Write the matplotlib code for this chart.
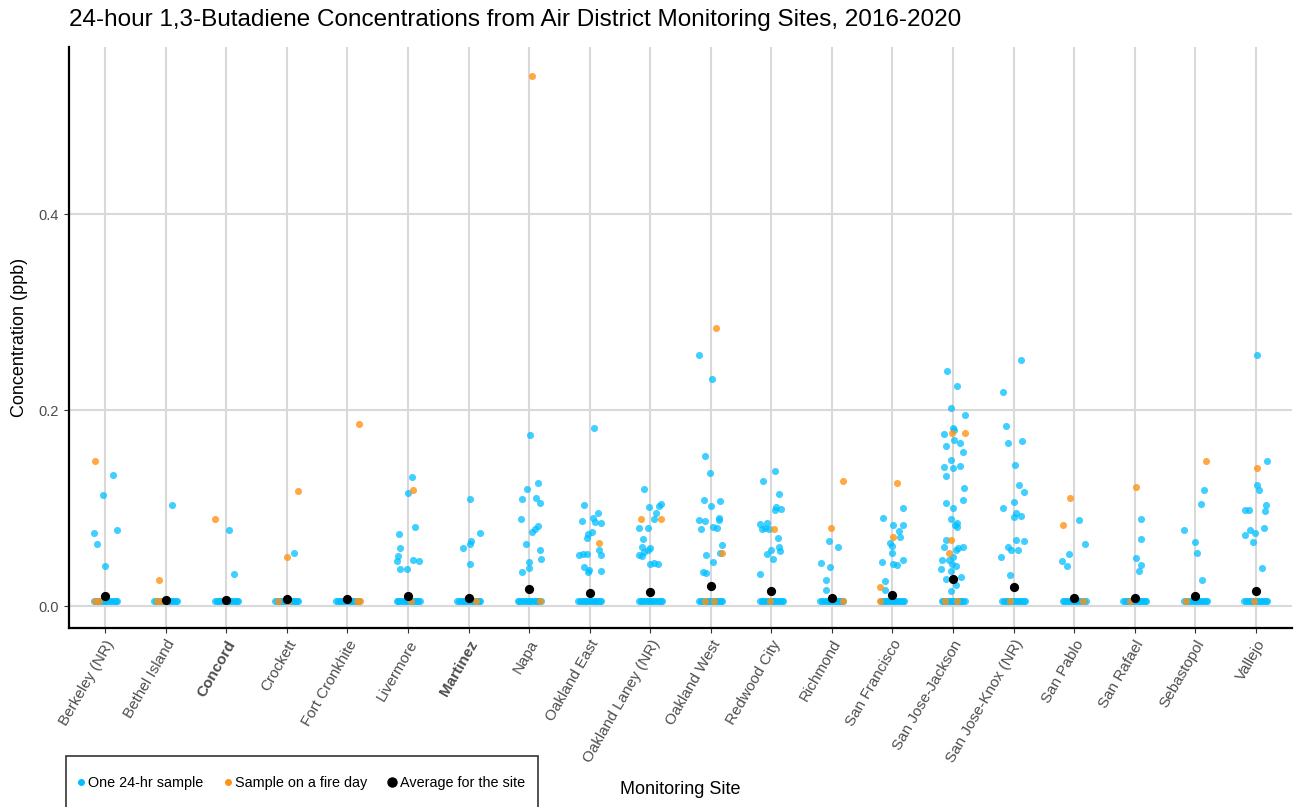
import numpy as np
import matplotlib.pyplot as plt
from matplotlib.lines import Line2D
from matplotlib.patches import Rectangle

plt.rcParams["font.family"] = ["Liberation Sans", "DejaVu Sans"]

sites = ["Berkeley (NR)", "Bethel Island", "Concord", "Crockett", "Fort Cronkhite",
         "Livermore", "Martinez", "Napa", "Oakland East", "Oakland Laney (NR)",
         "Oakland West", "Redwood City", "Richmond", "San Francisco", "San Jose-Jackson",
         "San Jose-Knox (NR)", "San Pablo", "San Rafael", "Sebastopol", "Vallejo"]
bold_sites = ["Concord", "Martinez"]

# average per site
averages = [0.010, 0.006, 0.006, 0.007, 0.007, 0.0105, 0.008, 0.018, 0.014, 0.015,
            0.0205, 0.016, 0.008, 0.012, 0.0275, 0.020, 0.0085, 0.008, 0.010, 0.016]

# samples below detection sit on one line
detect_value = 0.0055
baseline_offsets = [-0.19, -0.16, -0.13, -0.10, -0.07, -0.04, -0.01,
                    0.02, 0.05, 0.08, 0.11, 0.14, 0.17, 0.19]
fire_baseline_offsets = [[-0.17, -0.10], [-0.15, -0.08], [-0.03], [-0.15, 0.02], [0.15, 0.20],
                         [0.05], [0.13], [0.18], [], [],
                         [-0.10, 0.05], [-0.03], [0.18], [-0.20], [-0.13, 0.06],
                         [-0.06], [0.15], [-0.08], [-0.15], [-0.03]]

# (jitter offset, value) for detected samples
blue_points = [
    [(0.13, 0.134), (-0.03, 0.114), (-0.18, 0.075), (-0.13, 0.064), (0.20, 0.078), (0.0, 0.041)],
    [(0.10, 0.103)],
    [(0.04, 0.078), (0.12, 0.033)],
    [(0.12, 0.054)],
    [],
    [(0.06, 0.132), (0.0, 0.116), (0.12, 0.081), (-0.15, 0.074), (-0.13, 0.059), (-0.17, 0.051),
     (-0.18, 0.046), (-0.14, 0.038), (-0.01, 0.038), (0.09, 0.047), (0.18, 0.046)],
    [(0.02, 0.109), (0.19, 0.075), (0.04, 0.067), (0.03, 0.064), (-0.10, 0.059), (0.02, 0.043)],
    [(0.02, 0.175), (0.15, 0.126), (-0.03, 0.120), (-0.12, 0.110), (0.12, 0.111), (0.18, 0.105),
     (-0.13, 0.089), (0.14, 0.082), (0.10, 0.079), (0.05, 0.076), (-0.05, 0.064), (0.18, 0.057),
     (0.19, 0.048), (0.0, 0.045), (0.0, 0.039), (-0.12, 0.035)],
    [(0.07, 0.182), (-0.09, 0.103), (0.13, 0.095), (0.05, 0.090), (-0.13, 0.087), (0.08, 0.086),
     (0.19, 0.085), (0.04, 0.076), (-0.03, 0.074), (-0.04, 0.070), (0.16, 0.057), (0.18, 0.052),
     (-0.17, 0.052), (-0.11, 0.053), (-0.04, 0.053), (-0.10, 0.040), (-0.01, 0.037),
     (-0.03, 0.035), (0.19, 0.036)],
    [(-0.10, 0.120), (-0.02, 0.101), (0.14, 0.102), (0.17, 0.104), (0.10, 0.095), (0.06, 0.089),
     (-0.04, 0.080), (-0.18, 0.080), (-0.12, 0.069), (-0.14, 0.060), (0.0, 0.059), (-0.03, 0.057),
     (-0.10, 0.055), (-0.19, 0.052), (-0.14, 0.051), (-0.01, 0.043), (0.06, 0.044), (0.13, 0.043)],
    [(-0.20, 0.256), (0.02, 0.232), (-0.10, 0.153), (-0.02, 0.136), (-0.11, 0.108), (0.0, 0.102),
     (0.15, 0.107), (-0.20, 0.088), (-0.09, 0.087), (0.14, 0.090), (0.14, 0.088), (-0.16, 0.079),
     (0.04, 0.081), (0.10, 0.080), (0.18, 0.063), (0.15, 0.054), (-0.08, 0.052), (0.04, 0.045),
     (-0.13, 0.035), (-0.08, 0.034)],
    [(0.06, 0.138), (-0.13, 0.128), (0.12, 0.115), (0.07, 0.101), (0.16, 0.099), (0.06, 0.098),
     (-0.18, 0.084), (-0.07, 0.085), (-0.16, 0.079), (-0.10, 0.080), (-0.04, 0.079), (0.11, 0.070),
     (0.12, 0.061), (0.14, 0.056), (-0.01, 0.057), (-0.07, 0.053), (0.02, 0.048), (-0.19, 0.033)],
    [(-0.04, 0.067), (0.10, 0.061), (-0.18, 0.044), (-0.03, 0.040), (-0.10, 0.027), (-0.10, 0.017)],
    [(0.18, 0.100), (-0.15, 0.090), (0.01, 0.083), (0.18, 0.083), (0.10, 0.077), (0.12, 0.071),
     (-0.04, 0.065), (-0.01, 0.062), (-0.01, 0.054), (0.17, 0.047), (-0.17, 0.045), (0.01, 0.043),
     (0.07, 0.042), (-0.12, 0.026), (-0.13, 0.017)],
    [(-0.10, 0.240), (0.06, 0.225), (-0.04, 0.202), (0.20, 0.195), (0.0, 0.182), (0.01, 0.180),
     (-0.15, 0.176), (0.01, 0.170), (0.12, 0.167), (-0.12, 0.164), (0.16, 0.157), (-0.04, 0.149),
     (-0.15, 0.142), (0.0, 0.141), (0.12, 0.143), (-0.12, 0.133), (0.18, 0.121), (0.17, 0.108),
     (-0.12, 0.105), (0.0, 0.100), (-0.04, 0.089), (0.03, 0.083), (0.06, 0.085), (0.06, 0.081),
     (-0.12, 0.068), (0.08, 0.059), (0.17, 0.061), (-0.15, 0.060), (0.05, 0.057), (0.0, 0.050),
     (-0.19, 0.047), (-0.06, 0.047), (-0.02, 0.043), (0.05, 0.041), (-0.20, 0.038), (-0.03, 0.036),
     (0.14, 0.030), (-0.11, 0.028), (0.05, 0.022), (-0.04, 0.016)],
    [(0.13, 0.251), (-0.17, 0.219), (-0.12, 0.184), (-0.10, 0.167), (0.14, 0.169), (0.03, 0.144),
     (0.09, 0.124), (0.18, 0.117), (0.0, 0.106), (-0.17, 0.100), (0.04, 0.095), (0.13, 0.092),
     (0.01, 0.091), (0.04, 0.068), (0.17, 0.067), (-0.09, 0.060), (-0.04, 0.057), (0.08, 0.057),
     (-0.20, 0.050), (-0.06, 0.032)],
    [(0.08, 0.088), (0.18, 0.064), (-0.08, 0.053), (-0.20, 0.046), (-0.12, 0.041)],
    [(0.10, 0.089), (0.10, 0.069), (0.02, 0.049), (0.11, 0.042), (0.07, 0.036)],
    [(0.15, 0.119), (0.10, 0.104), (-0.18, 0.078), (-0.01, 0.066), (0.03, 0.054), (0.12, 0.027)],
    [(0.02, 0.256), (0.19, 0.148), (0.02, 0.124), (0.06, 0.119), (0.17, 0.103), (0.15, 0.097),
     (-0.17, 0.098), (-0.11, 0.098), (-0.09, 0.078), (-0.01, 0.075), (-0.17, 0.073), (0.13, 0.080),
     (-0.05, 0.066), (0.11, 0.039)],
]

fire_points = [
    [(-0.17, 0.148)], [(-0.12, 0.027)], [(-0.18, 0.089)], [(0.18, 0.118), (0.0, 0.050)],
    [(0.19, 0.186)], [(0.08, 0.119)], [], [(0.04, 0.541)], [(0.16, 0.065)],
    [(-0.15, 0.089), (0.18, 0.089)], [(0.08, 0.284), (0.19, 0.054)], [(0.04, 0.079)],
    [(0.18, 0.128), (-0.02, 0.080)], [(0.08, 0.126), (0.01, 0.071), (-0.20, 0.020)],
    [(-0.02, 0.177), (0.19, 0.177), (-0.04, 0.068), (-0.06, 0.054)], [],
    [(-0.07, 0.111), (-0.19, 0.083)], [(0.02, 0.122)], [(0.18, 0.148)], [(0.02, 0.141)],
]

blue = "#00BFFF"
orange = "#FF9315"

fig = plt.figure(figsize=(12.96, 8.07), dpi=100)
ax = fig.add_axes([0.0532, 0.222, 0.9438, 0.720])

for i in range(len(sites)):
    bx = [i + o for o in baseline_offsets] + [i + o for o, v in blue_points[i]]
    by = [detect_value] * len(baseline_offsets) + [v for o, v in blue_points[i]]
    ax.scatter(bx, by, s=26, color=blue, alpha=0.75, linewidths=0, zorder=3)
for i in range(len(sites)):
    fx = [i + o for o in fire_baseline_offsets[i]] + [i + o for o, v in fire_points[i]]
    fy = [detect_value] * len(fire_baseline_offsets[i]) + [v for o, v in fire_points[i]]
    ax.scatter(fx, fy, s=26, color=orange, alpha=0.8, linewidths=0, zorder=4)
ax.scatter(range(len(sites)), averages, s=44, color="black", linewidths=0, zorder=5)

ax.set_xlim(-0.6, len(sites) - 0.4)
ax.set_ylim(-0.022, 0.571)
ax.set_xticks(range(len(sites)))
ax.set_xticklabels(sites, rotation=60, ha="right", rotation_mode="anchor",
                   fontsize=11, color="#4D4D4D")
for lab in ax.get_xticklabels():
    if lab.get_text() in bold_sites:
        lab.set_fontweight("bold")
ax.set_yticks([0.0, 0.2, 0.4])
ax.set_yticklabels(["0.0", "0.2", "0.4"], fontsize=10.5, color="#4D4D4D")
ax.tick_params(axis="both", length=3.5, color="#333333")
ax.grid(True, color="#D9D9D9", linewidth=1.5)
ax.set_axisbelow(True)
for s in ["top", "right"]:
    ax.spines[s].set_visible(False)
for s in ["left", "bottom"]:
    ax.spines[s].set_linewidth(1.6)
    ax.spines[s].set_color("black")

ax.set_title("24-hour 1,3-Butadiene Concentrations from Air District Monitoring Sites, 2016-2020",
             loc="left", fontsize=17.5, pad=15)
ax.set_ylabel("Concentration (ppb)", fontsize=13, labelpad=8)
fig.text(0.525, 0.022, "Monitoring Site", fontsize=13, ha="center", va="center")

# legend box runs off the bottom edge, like the original
handles = [
    Line2D([], [], marker="o", linestyle="", color=blue, markersize=4, label="One 24-hr sample"),
    Line2D([], [], marker="o", linestyle="", color=orange, markersize=4, label="Sample on a fire day"),
    Line2D([], [], marker="o", linestyle="", color="black", markersize=6.5, label="Average for the site"),
]
fig.legend(handles=handles, loc="center left", bbox_to_anchor=(74 / 1296, 1 - 783 / 807),
           ncol=3, fontsize=10.4, frameon=False, borderpad=0, borderaxespad=0,
           handletextpad=0.1, columnspacing=1.2, handlelength=0.9)
fig.add_artist(Rectangle((66 / 1296, 1 - 815 / 807), 472 / 1296, 59 / 807,
                         transform=fig.transFigure, fill=False, edgecolor="#333333", linewidth=1.2))

plt.savefig("out.png", dpi=100)
